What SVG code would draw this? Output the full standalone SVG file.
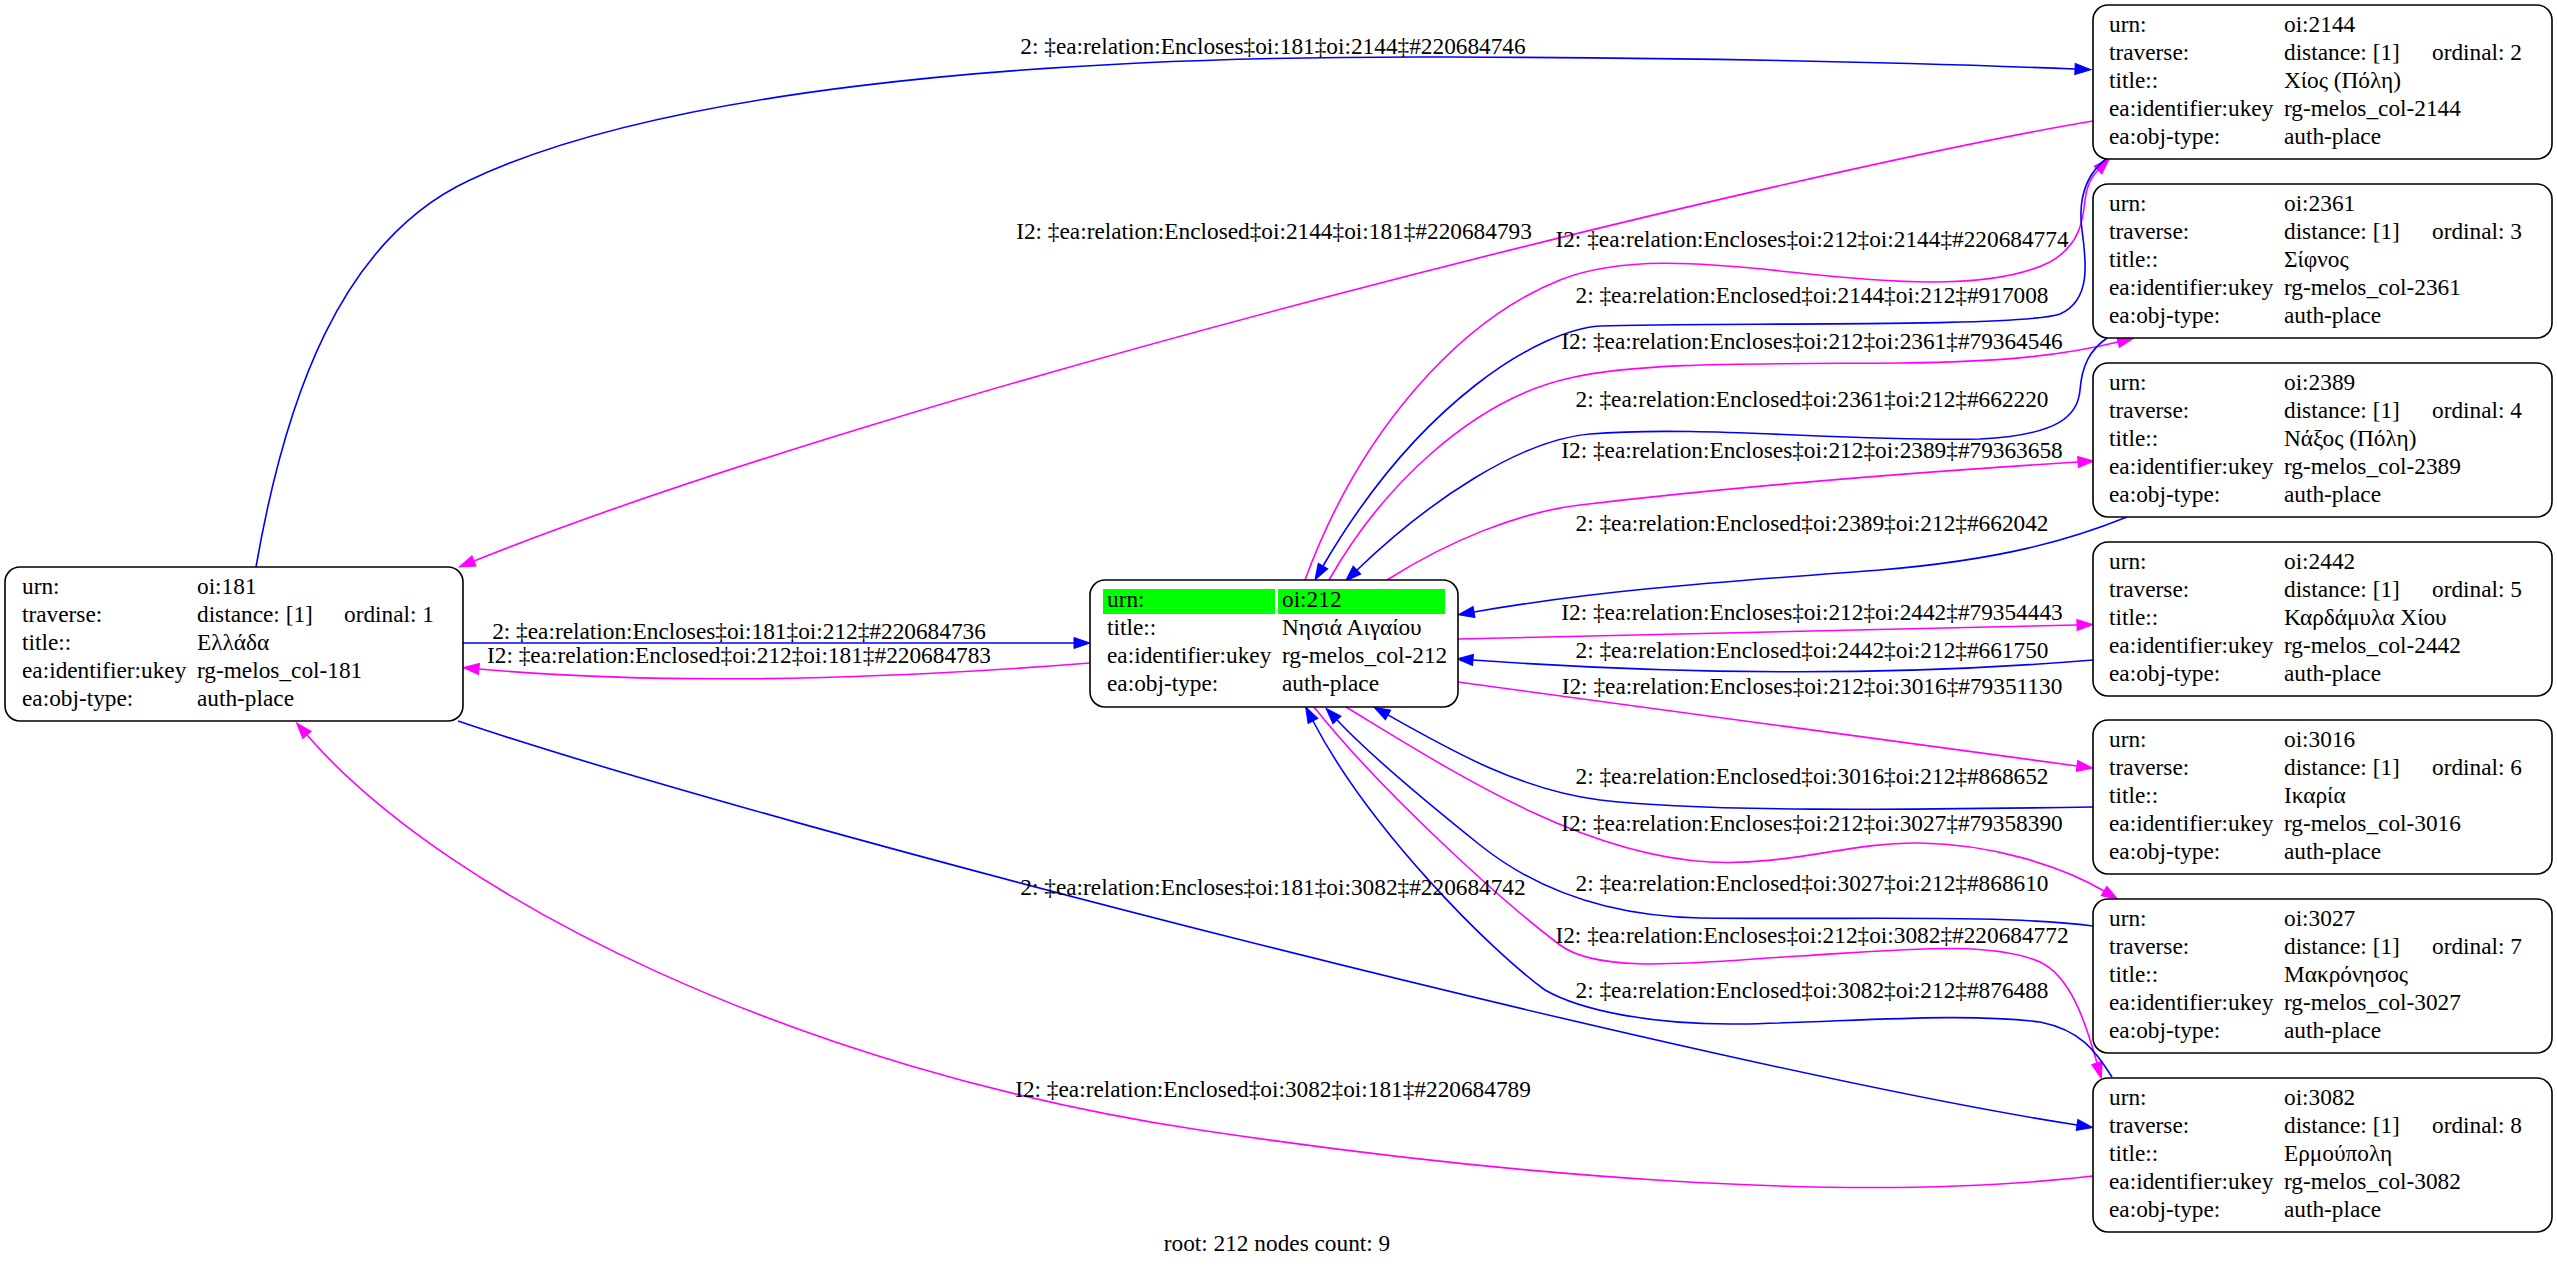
<svg xmlns="http://www.w3.org/2000/svg" width="2557" height="1268" viewBox="0 0 2557 1268">
<style>
text{font-family:"Liberation Serif","Times New Roman","DejaVu Serif",serif;font-size:23.3px;fill:#000}
.box{fill:#fff;stroke:#000;stroke-width:1.6}
.hl{fill:#00ff00}
.eb{fill:none;stroke:#0000ff;stroke-width:1.6;marker-end:url(#ab)}
.em{fill:none;stroke:#ff00ff;stroke-width:1.6;marker-end:url(#am)}
.lbl{text-anchor:middle}
</style>
<defs>
<marker id="ab" markerWidth="16" markerHeight="11" refX="0" refY="5.5" orient="auto" markerUnits="userSpaceOnUse" overflow="visible"><path d="M0,0L16,5.5L0,11z" fill="#0000ff" stroke="#0000ff" stroke-width="1"/></marker>
<marker id="am" markerWidth="16" markerHeight="11" refX="0" refY="5.5" orient="auto" markerUnits="userSpaceOnUse" overflow="visible"><path d="M0,0L16,5.5L0,11z" fill="#ff00ff" stroke="#ff00ff" stroke-width="1"/></marker>
</defs>
<rect x="0" y="0" width="2557" height="1268" fill="#fff"/>

<g id="connectors">
<g id="e-181-2144"><path class="eb" d="M256,567 C285,400 340,240 470,180 C650,95 1000,55 1450,57 C1750,58 1950,64 2075,69"/><text class="lbl" x="1273" y="54">2: ‡ea:relation:Encloses‡oi:181‡oi:2144‡#220684746</text></g>
<g id="e-2144-181"><path class="em" d="M2093,121 C1800,170 900,390 474,561"/><text class="lbl" x="1274" y="239">I2: ‡ea:relation:Enclosed‡oi:2144‡oi:181‡#220684793</text></g>
<g id="e-212-2144"><path class="em" d="M1305,580 C1360,430 1460,320 1560,280 C1620,256 1700,262 1790,272 C1880,282 1990,292 2050,262 C2080,245 2083,220 2085,200 C2086,190 2090,178 2098,170"/><text class="lbl" x="1812" y="247">I2: ‡ea:relation:Encloses‡oi:212‡oi:2144‡#220684774</text></g>
<g id="e-2144-212"><path class="eb" d="M2107,158 C2085,175 2078,200 2082,230 C2086,260 2092,300 2060,314 C2020,328 1700,322 1600,326 C1540,330 1420,400 1323,566"/><text class="lbl" x="1812" y="303">2: ‡ea:relation:Enclosed‡oi:2144‡oi:212‡#917008</text></g>
<g id="e-212-2361"><path class="em" d="M1329,580 C1380,490 1470,400 1570,378 C1640,362 1750,364 1900,363 C2000,362 2060,356 2118,342"/><text class="lbl" x="1812" y="349">I2: ‡ea:relation:Encloses‡oi:212‡oi:2361‡#79364546</text></g>
<g id="e-2361-212"><path class="eb" d="M2107,338 C2090,350 2082,365 2080,390 C2078,415 2060,435 1980,439 C1850,442 1700,425 1590,434 C1520,440 1430,500 1357,570"/><text class="lbl" x="1812" y="407">2: ‡ea:relation:Enclosed‡oi:2361‡oi:212‡#662220</text></g>
<g id="e-212-2389"><path class="em" d="M1387,580 C1450,540 1520,512 1580,505 C1750,485 1950,470 2078,462"/><text class="lbl" x="1812" y="458">I2: ‡ea:relation:Encloses‡oi:212‡oi:2389‡#79363658</text></g>
<g id="e-2389-212"><path class="eb" d="M2127,517 C2070,540 2000,560 1880,570 C1720,582 1600,590 1474,612"/><text class="lbl" x="1812" y="531">2: ‡ea:relation:Enclosed‡oi:2389‡oi:212‡#662042</text></g>
<g id="e-181-212"><path class="eb" d="M463,643 L1074,643"/><text class="lbl" x="739" y="639">2: ‡ea:relation:Encloses‡oi:181‡oi:212‡#220684736</text></g>
<g id="e-212-181"><path class="em" d="M1090,663 C850,682 650,684 479,669"/><text class="lbl" x="739" y="663">I2: ‡ea:relation:Enclosed‡oi:212‡oi:181‡#220684783</text></g>
<g id="e-212-2442"><path class="em" d="M1458,639 C1700,634 1900,629 2077,625"/><text class="lbl" x="1812" y="620">I2: ‡ea:relation:Encloses‡oi:212‡oi:2442‡#79354443</text></g>
<g id="e-2442-212"><path class="eb" d="M2093,660 C1900,676 1700,676 1473,660"/><text class="lbl" x="1812" y="658">2: ‡ea:relation:Enclosed‡oi:2442‡oi:212‡#661750</text></g>
<g id="e-212-3016"><path class="em" d="M1458,682 L2077,766"/><text class="lbl" x="1812" y="694">I2: ‡ea:relation:Encloses‡oi:212‡oi:3016‡#79351130</text></g>
<g id="e-3016-212"><path class="eb" d="M2093,807 C1900,810 1700,812 1600,800 C1520,790 1450,750 1388,715"/><text class="lbl" x="1812" y="784">2: ‡ea:relation:Enclosed‡oi:3016‡oi:212‡#868652</text></g>
<g id="e-212-3027"><path class="em" d="M1346,707 C1450,770 1580,855 1710,862 C1790,866 1850,842 1920,843 C1990,844 2060,865 2104,891"/><text class="lbl" x="1812" y="831">I2: ‡ea:relation:Encloses‡oi:212‡oi:3027‡#79358390</text></g>
<g id="e-3027-212"><path class="eb" d="M2093,926 C2000,914 1850,920 1700,918 C1600,916 1530,885 1480,845 C1420,797 1370,755 1337,720"/><text class="lbl" x="1812" y="891">2: ‡ea:relation:Enclosed‡oi:3027‡oi:212‡#868610</text></g>
<g id="e-212-3082"><path class="em" d="M1314,707 C1380,790 1500,900 1560,945 C1600,975 1700,962 1800,956 C1900,950 1990,940 2040,962 C2070,976 2085,1020 2097,1063"/><text class="lbl" x="1812" y="943">I2: ‡ea:relation:Encloses‡oi:212‡oi:3082‡#220684772</text></g>
<g id="e-3082-212"><path class="eb" d="M2112,1077 C2095,1050 2080,1030 2040,1022 C1960,1012 1850,1022 1740,1024 C1650,1025 1580,1010 1545,990 C1490,950 1370,830 1313,721"/><text class="lbl" x="1812" y="998">2: ‡ea:relation:Enclosed‡oi:3082‡oi:212‡#876488</text></g>
<g id="e-181-3082"><path class="eb" d="M458,721 C780,830 1720,1070 2077,1125"/><text class="lbl" x="1273" y="895">2: ‡ea:relation:Encloses‡oi:181‡oi:3082‡#220684742</text></g>
<g id="e-3082-181"><path class="em" d="M2093,1176 C1850,1205 1500,1175 1200,1130 C800,1070 450,900 307,735"/><text class="lbl" x="1273" y="1097">I2: ‡ea:relation:Enclosed‡oi:3082‡oi:181‡#220684789</text></g>
</g>

<g id="n181">
<rect class="box" x="5" y="567" width="458" height="154" rx="15"/>
<text x="22" y="594">urn:</text><text x="197" y="594">oi:181</text>
<text x="22" y="622">traverse:</text><text x="197" y="622">distance: [1]</text><text x="344" y="622">ordinal: 1</text>
<text x="22" y="650">title::</text><text x="197" y="650">Ελλάδα</text>
<text x="22" y="678">ea:identifier:ukey</text><text x="197" y="678">rg-melos_col-181</text>
<text x="22" y="706">ea:obj-type:</text><text x="197" y="706">auth-place</text>
</g>

<g id="n212">
<rect class="box" x="1090" y="580" width="368" height="127" rx="15"/>
<rect class="hl" x="1103" y="589" width="172" height="25"/>
<rect class="hl" x="1278" y="589" width="167" height="25"/>
<text x="1107" y="607">urn:</text><text x="1282" y="607">oi:212</text>
<text x="1107" y="635">title::</text><text x="1282" y="635">Νησιά Αιγαίου</text>
<text x="1107" y="663">ea:identifier:ukey</text><text x="1282" y="663">rg-melos_col-212</text>
<text x="1107" y="691">ea:obj-type:</text><text x="1282" y="691">auth-place</text>
</g>

<g id="n2144">
<rect class="box" x="2093" y="5" width="459" height="154" rx="15"/>
<text x="2109" y="32">urn:</text><text x="2284" y="32">oi:2144</text>
<text x="2109" y="60">traverse:</text><text x="2284" y="60">distance: [1]</text><text x="2432" y="60">ordinal: 2</text>
<text x="2109" y="88">title::</text><text x="2284" y="88">Χίος (Πόλη)</text>
<text x="2109" y="116">ea:identifier:ukey</text><text x="2284" y="116">rg-melos_col-2144</text>
<text x="2109" y="144">ea:obj-type:</text><text x="2284" y="144">auth-place</text>
</g>

<g id="n2361">
<rect class="box" x="2093" y="184" width="459" height="154" rx="15"/>
<text x="2109" y="211">urn:</text><text x="2284" y="211">oi:2361</text>
<text x="2109" y="239">traverse:</text><text x="2284" y="239">distance: [1]</text><text x="2432" y="239">ordinal: 3</text>
<text x="2109" y="267">title::</text><text x="2284" y="267">Σίφνος</text>
<text x="2109" y="295">ea:identifier:ukey</text><text x="2284" y="295">rg-melos_col-2361</text>
<text x="2109" y="323">ea:obj-type:</text><text x="2284" y="323">auth-place</text>
</g>

<g id="n2389">
<rect class="box" x="2093" y="363" width="459" height="154" rx="15"/>
<text x="2109" y="390">urn:</text><text x="2284" y="390">oi:2389</text>
<text x="2109" y="418">traverse:</text><text x="2284" y="418">distance: [1]</text><text x="2432" y="418">ordinal: 4</text>
<text x="2109" y="446">title::</text><text x="2284" y="446">Νάξος (Πόλη)</text>
<text x="2109" y="474">ea:identifier:ukey</text><text x="2284" y="474">rg-melos_col-2389</text>
<text x="2109" y="502">ea:obj-type:</text><text x="2284" y="502">auth-place</text>
</g>

<g id="n2442">
<rect class="box" x="2093" y="542" width="459" height="154" rx="15"/>
<text x="2109" y="569">urn:</text><text x="2284" y="569">oi:2442</text>
<text x="2109" y="597">traverse:</text><text x="2284" y="597">distance: [1]</text><text x="2432" y="597">ordinal: 5</text>
<text x="2109" y="625">title::</text><text x="2284" y="625">Καρδάμυλα Χίου</text>
<text x="2109" y="653">ea:identifier:ukey</text><text x="2284" y="653">rg-melos_col-2442</text>
<text x="2109" y="681">ea:obj-type:</text><text x="2284" y="681">auth-place</text>
</g>

<g id="n3016">
<rect class="box" x="2093" y="720" width="459" height="154" rx="15"/>
<text x="2109" y="747">urn:</text><text x="2284" y="747">oi:3016</text>
<text x="2109" y="775">traverse:</text><text x="2284" y="775">distance: [1]</text><text x="2432" y="775">ordinal: 6</text>
<text x="2109" y="803">title::</text><text x="2284" y="803">Ικαρία</text>
<text x="2109" y="831">ea:identifier:ukey</text><text x="2284" y="831">rg-melos_col-3016</text>
<text x="2109" y="859">ea:obj-type:</text><text x="2284" y="859">auth-place</text>
</g>

<g id="n3027">
<rect class="box" x="2093" y="899" width="459" height="154" rx="15"/>
<text x="2109" y="926">urn:</text><text x="2284" y="926">oi:3027</text>
<text x="2109" y="954">traverse:</text><text x="2284" y="954">distance: [1]</text><text x="2432" y="954">ordinal: 7</text>
<text x="2109" y="982">title::</text><text x="2284" y="982">Μακρόνησος</text>
<text x="2109" y="1010">ea:identifier:ukey</text><text x="2284" y="1010">rg-melos_col-3027</text>
<text x="2109" y="1038">ea:obj-type:</text><text x="2284" y="1038">auth-place</text>
</g>

<g id="n3082">
<rect class="box" x="2093" y="1078" width="459" height="154" rx="15"/>
<text x="2109" y="1105">urn:</text><text x="2284" y="1105">oi:3082</text>
<text x="2109" y="1133">traverse:</text><text x="2284" y="1133">distance: [1]</text><text x="2432" y="1133">ordinal: 8</text>
<text x="2109" y="1161">title::</text><text x="2284" y="1161">Ερμούπολη</text>
<text x="2109" y="1189">ea:identifier:ukey</text><text x="2284" y="1189">rg-melos_col-3082</text>
<text x="2109" y="1217">ea:obj-type:</text><text x="2284" y="1217">auth-place</text>
</g>

<g id="caption"><text class="lbl" x="1277" y="1251">root: 212 nodes count: 9</text></g>
</svg>
